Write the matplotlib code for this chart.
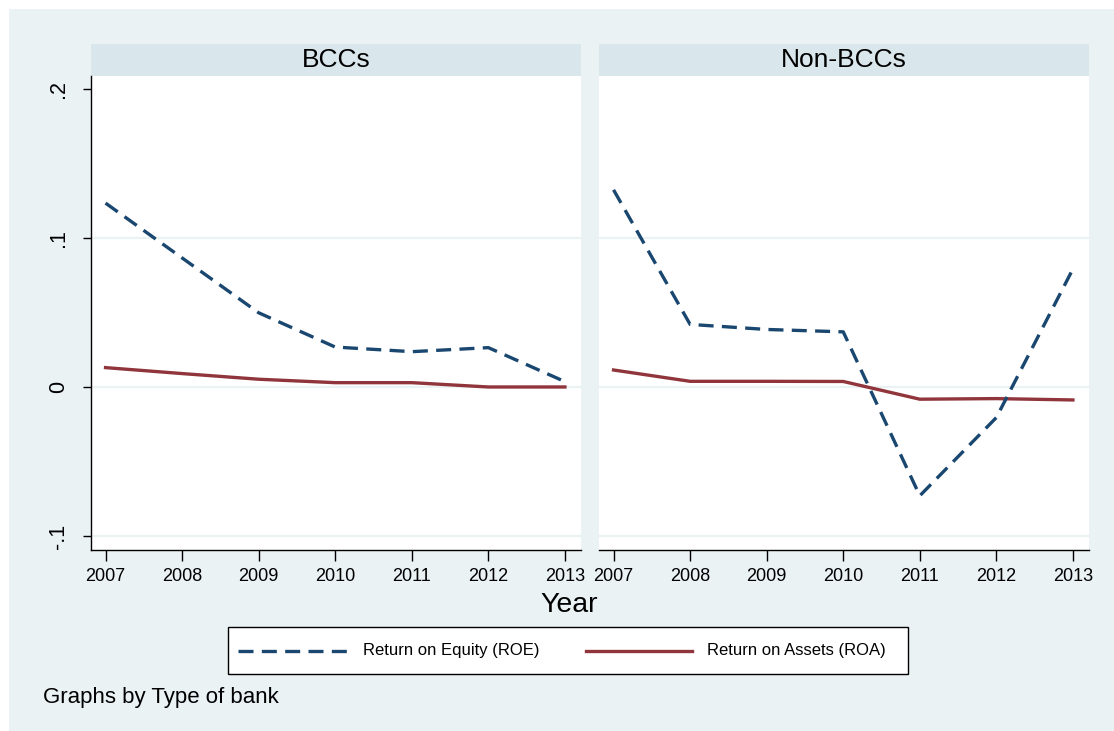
import matplotlib
matplotlib.use("Agg")
import matplotlib.pyplot as plt
from matplotlib.patches import Rectangle
from matplotlib.lines import Line2D

plt.rcParams["font.family"] = ["Liberation Sans", "DejaVu Sans"]

# ---- data ----
years = [2007, 2008, 2009, 2010, 2011, 2012, 2013]
panels = ["BCCs", "Non-BCCs"]
roe_bcc = [0.1234, 0.0866, 0.0498, 0.0268, 0.0237, 0.0264, 0.0036]
roa_bcc = [0.0130, 0.0090, 0.0052, 0.0029, 0.0029, 0.0000, 0.0000]
roe_non = [0.1323, 0.0420, 0.0386, 0.0370, -0.0730, -0.0205, 0.0792]
roa_non = [0.0114, 0.0038, 0.0038, 0.0037, -0.0082, -0.0078, -0.0087]
ytick_vals = [-0.1, 0.0, 0.1, 0.2]
ytick_labels = ["-.1", "0", ".1", ".2"]
grid_vals = [-0.1, 0.0, 0.1]
series_labels = ["Return on Equity (ROE)", "Return on Assets (ROA)"]

# ---- style ----
W, H = 1114, 731
BG = "#EAF2F3"
STRIP = "#D9E6EB"
NAVY = "#1A476F"
MAROON = "#90353B"
LW = 2.4
DASH = (0, (4.5, 2.5))

fig = plt.figure(figsize=(W / 100, H / 100), dpi=100)
fig.patch.set_facecolor("white")


def fx(px):
    return px / W


def fy(py):
    return 1 - py / H


# outer graph region
fig.patches.append(Rectangle((fx(9), 0), fx(W - 9), fy(9), transform=fig.transFigure,
                             facecolor=BG, edgecolor="none", zorder=-5))

plot_top, plot_bot = 76, 550
strip_top = 44
lefts = [91, 599]
width = 490
data = [(roe_bcc, roa_bcc), (roe_non, roa_non)]

for i, (name, (roe, roa)) in enumerate(zip(panels, data)):
    x0 = lefts[i]
    ax = fig.add_axes([fx(x0), fy(plot_bot), fx(width), (plot_bot - plot_top) / H])
    ax.set_zorder(3)
    ax.set_facecolor("white")
    ax.set_xlim(2006.81, 2013.21)
    ax.set_ylim(-0.1094, 0.2087)
    for g in grid_vals:
        ax.axhline(g, color=BG, lw=1.6, zorder=1)
    ax.plot(years, roe, color=NAVY, lw=LW, linestyle=DASH, zorder=3,
            dash_capstyle="butt")
    ax.plot(years, roa, color=MAROON, lw=LW, zorder=2)

    for s in ["top", "right"]:
        ax.spines[s].set_visible(False)
    ax.spines["bottom"].set_color("black")
    ax.spines["bottom"].set_linewidth(1.0)
    ax.set_xticks(years)
    ax.set_xticklabels([str(y) for y in years], fontsize=13)
    ax.tick_params(axis="x", length=8, width=1.0, pad=5, colors="black")
    if i == 0:
        ax.spines["left"].set_color("black")
        ax.spines["left"].set_linewidth(1.0)
        ax.set_yticks(ytick_vals)
        ax.set_yticklabels(ytick_labels, fontsize=15.5, rotation=90, va="center")
        ax.tick_params(axis="y", length=6, width=1.0, pad=10)
    else:
        ax.spines["left"].set_visible(False)
        ax.set_yticks([])

    # panel title strip
    fig.patches.append(Rectangle((fx(x0), fy(plot_top)), fx(width), (plot_top - strip_top) / H,
                                 transform=fig.transFigure, facecolor=STRIP,
                                 edgecolor="none", zorder=1))
    fig.text(fx(x0 + width / 2), fy((plot_top + strip_top) / 2), name,
             ha="center", va="center", fontsize=19, color="black")

# x axis title
fig.text(fx(569), fy(605), "Year", ha="center", va="center", fontsize=20.5)

# legend box
lx0, lx1, ly0, ly1 = 228, 908, 627, 674
fig.patches.append(Rectangle((fx(lx0), fy(ly1)), fx(lx1 - lx0), (ly1 - ly0) / H,
                             transform=fig.transFigure, facecolor="white",
                             edgecolor="black", lw=1.0, zorder=2))
ly = fy(651)
fig.lines.append(Line2D([fx(238), fx(347)], [ly, ly], transform=fig.transFigure,
                        color=NAVY, lw=LW, linestyle=DASH, zorder=3))
fig.lines.append(Line2D([fx(586), fx(692)], [ly, ly], transform=fig.transFigure,
                        color=MAROON, lw=LW, zorder=3))
fig.text(fx(363), ly, series_labels[0], ha="left", va="center", fontsize=12, zorder=4)
fig.text(fx(707), ly, series_labels[1], ha="left", va="center", fontsize=12, zorder=4)

# note
fig.text(fx(43), fy(697), "Graphs by Type of bank", ha="left", va="center", fontsize=16)

fig.savefig("out.png", dpi=100, facecolor=fig.get_facecolor())
